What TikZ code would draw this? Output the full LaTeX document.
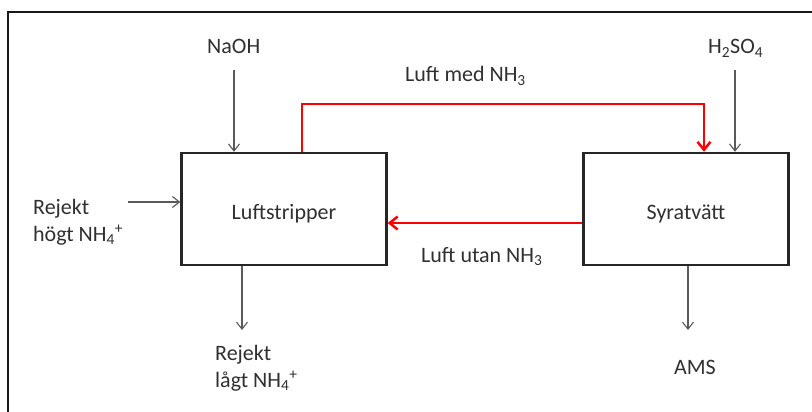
\documentclass[tikz,border=0pt]{standalone}
\usepackage{fontspec}
\setmainfont{Carlito}
\usetikzlibrary{arrows.meta}
\definecolor{txt}{HTML}{303030}
\definecolor{feedgray}{HTML}{5A5A5A}
\newcommand{\lowerby}[1]{\raisebox{-5pt}[\height][\depth]{#1}}
\begin{document}
\begin{tikzpicture}[x=1pt,y=-1pt,
  lbl/.style={font=\fontsize{22}{27}\selectfont, text=txt, inner sep=0pt},
  unit/.style={draw=black!85, line width=2.4pt, minimum width=205pt, minimum height=112pt, inner sep=0pt, lbl},
  feed/.style={draw=feedgray, line width=1.1pt, -{Straight Barb[length=7pt,width=11pt]}},
  air/.style={draw=red, line width=2.5pt, line join=miter, -{Straight Barb[length=8pt,width=13pt,line width=2.5pt]}}]
\useasboundingbox (0,0) rectangle (812,412);
\draw[line width=2.2pt, black!90] (8,412) -- (8,12) -- (812,12);

\node[unit] (strip) at (284,209) {\lowerby{Luftstripper}};
\node[unit] (wash) at (686,209) {\lowerby{Syratvätt}};

\node[lbl, anchor=base west] (naoh) at (207,54) {NaOH};
\node[lbl, anchor=base west] (acid) at (708,54) {H\textsubscript{2}SO\textsubscript{4}};
\node[lbl, anchor=base west] (medlbl) at (405,82) {Luft med NH\textsubscript{3}};
\node[lbl, anchor=base west] (utanlbl) at (421,262) {Luft utan NH\textsubscript{3}};
\node[lbl, anchor=base west, align=left] (hogt) at (33,241) {Rejekt\\högt NH\textsubscript{4}\textsuperscript{+}};
\node[lbl, anchor=base west, align=left] (lagt) at (215,387) {Rejekt\\lågt NH\textsubscript{4}\textsuperscript{+}};
\node[lbl, anchor=base] (ams) at (695,374) {AMS};

\coordinate (naohin) at (234,70);
\coordinate (acidin) at (735,70);
\coordinate (hogtin) at (128,202);
\coordinate (lagtout) at (242,330);
\coordinate (amsout) at (688,330);
\coordinate (bend) at (302,104);

\draw[feed] (naohin) -- (naohin |- strip.north);
\draw[feed] (acidin) -- (acidin |- wash.north);
\draw[feed] (hogtin) -- (hogtin -| strip.west);
\draw[feed] (lagtout |- strip.south) -- (lagtout);
\draw[feed] (amsout |- wash.south) -- (amsout);

\draw[air] (bend |- strip.north) -- (bend) -| (704,0 |- wash.north);
\draw[air] (wash.west |- 0,223) -- (strip.east |- 0,223);
\end{tikzpicture}
\end{document}
